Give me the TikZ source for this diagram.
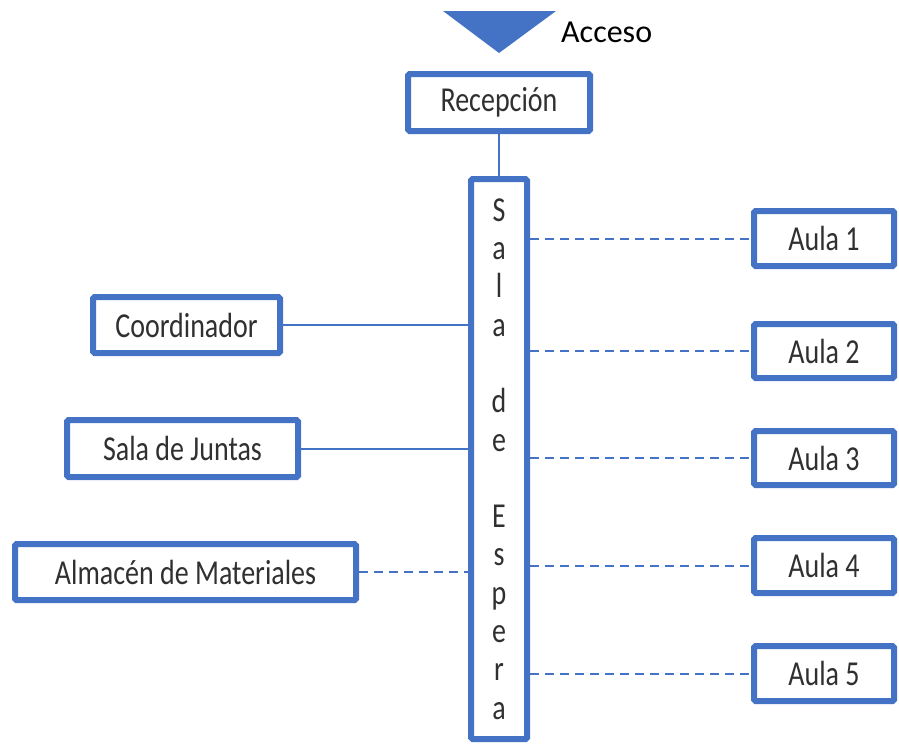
\documentclass[tikz,border=0pt]{standalone}
\usepackage{fontspec}
\setmainfont{Carlito}[FakeStretch=0.8]
\newfontfamily\accfont{Carlito}
\definecolor{boxblue}{HTML}{4472C4}
\definecolor{txt}{HTML}{303030}
\tikzset{
  roombox/.style={draw=boxblue, line width=6pt, rectangle, rounded corners=1.5pt, fill=white,
    inner sep=0pt, text=txt, font=\fontsize{35}{40}\selectfont},
  solidlink/.style={draw=boxblue, line width=2pt},
  dashlink/.style={draw=boxblue, line width=2pt, dash pattern=on 9pt off 6pt},
}
\begin{document}
\begin{tikzpicture}[x=1pt,y=-1pt]
\useasboundingbox (0,0) rectangle (899,744);
% access triangle
\fill[boxblue] (443,11) -- (556,11) -- (499,53) -- cycle;
\node[anchor=west, font=\accfont\fontsize{32}{36}\selectfont, text=black, inner sep=0pt] (acc) at (561,32) {Acceso};
% nodes
\node[roombox, minimum width=182pt, minimum height=57pt] (rec) at (499,102.5) {Recepción};
\node[roombox, minimum width=56pt, minimum height=560pt, align=center,
      font=\fontsize{35}{38.3}\selectfont] (sala) at (499,459)
  {S\\a\\l\\a\\\mbox{}\\d\\e\\\mbox{}\\E\\s\\p\\e\\r\\a};
\node[roombox, minimum width=187pt, minimum height=56pt] (coord) at (186.5,325) {Coordinador};
\node[roombox, minimum width=231pt, minimum height=57pt] (juntas) at (182.5,448.5) {Sala de Juntas};
\node[roombox, minimum width=341pt, minimum height=56pt] (alm) at (185.5,572) {Almacén de Materiales};
\node[roombox, minimum width=140pt, minimum height=55pt] (a1) at (824,238.5) {Aula 1};
\node[roombox, minimum width=140pt, minimum height=54pt] (a2) at (824,351) {Aula 2};
\node[roombox, minimum width=140pt, minimum height=54pt] (a3) at (824,458) {Aula 3};
\node[roombox, minimum width=140pt, minimum height=55pt] (a4) at (824,565.5) {Aula 4};
\node[roombox, minimum width=140pt, minimum height=55pt] (a5) at (824,673.5) {Aula 5};
% connectors
\draw[solidlink] (rec.south) -- (sala.north);
\draw[solidlink] (coord.east) -- (coord.east -| sala.west);
\draw[solidlink] (juntas.east) -- (juntas.east -| sala.west);
\draw[dashlink] (alm.east) -- (alm.east -| sala.west);
\draw[dashlink] (a1.west -| sala.east) -- (a1.west);
\draw[dashlink] (a2.west -| sala.east) -- (a2.west);
\draw[dashlink] (a3.west -| sala.east) -- (a3.west);
\draw[dashlink] (a4.west -| sala.east) -- (a4.west);
\draw[dashlink] (a5.west -| sala.east) -- (a5.west);
\end{tikzpicture}
\end{document}
